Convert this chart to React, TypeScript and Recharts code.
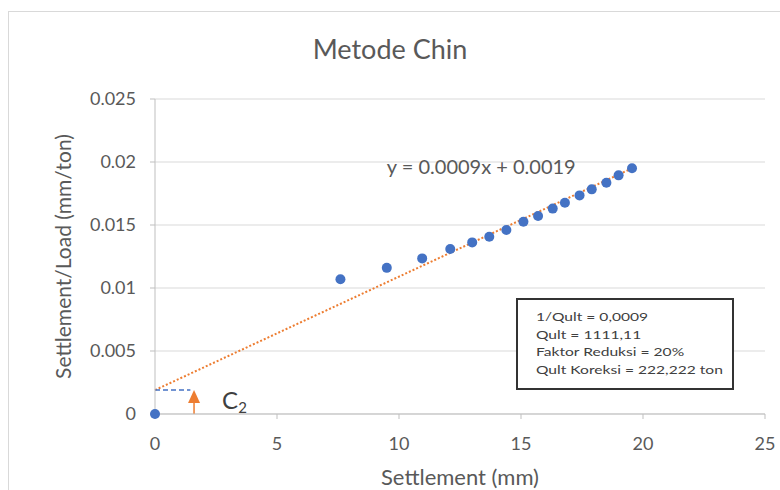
import {
  ScatterChart,
  Scatter,
  XAxis,
  YAxis,
  CartesianGrid,
  ReferenceLine,
  ReferenceDot,
} from "recharts";

// Settlement (mm) vs Settlement/Load (mm/ton)
const settlement = [
  0, 7.6, 9.5, 10.95, 12.1, 13.0, 13.7, 14.4, 15.1, 15.7, 16.3, 16.8, 17.4,
  17.9, 18.5, 19.0, 19.55,
];
const ratio = [
  0, 0.0107, 0.0116, 0.01235, 0.0131, 0.01362, 0.01407, 0.0146, 0.01526,
  0.01571, 0.0163, 0.01677, 0.01735, 0.01783, 0.01836, 0.01894, 0.0195,
];

const xTicks = [0, 5, 10, 15, 20, 25];
const yTicks = [0, 0.005, 0.01, 0.015, 0.02, 0.025];

// trendline endpoints (y = 0.0009x + 0.0019)
const trendStart = { x: 0, y: 0.0019 };
const trendEnd = { x: 19.55, y: 0.0195 };
const interceptEnd = { x: 1.45, y: 0.0019 };
const arrowAt = { x: 1.6, y: 0.00135 };
const c2At = { x: 2.75, y: 0.00115 };
const equationAt = { x: 9.5, y: 0.0197 };

const equationText = "y = 0.0009x + 0.0019";
const boxLines = [
  "1/Qult = 0,0009",
  "Qult = 1111,11",
  "Faktor Reduksi = 20%",
  "Qult Koreksi = 222,222 ton",
];

const data = settlement.map((x, i) => ({ x, y: ratio[i] }));

const font = "Lato, 'Noto Sans', sans-serif";
const textColor = "#595959";
const blue = "#4472c4";
const orange = "#ed7d31";

const YTitle = ({ viewBox }: any) => {
  const cx = viewBox.x + 22;
  const cy = viewBox.y + viewBox.height / 2;
  return (
    <text
      x={cx}
      y={cy}
      transform={`rotate(-90 ${cx} ${cy})`}
      textAnchor="middle"
      dominantBaseline="central"
      fill={textColor}
      fontSize={21}
      fontFamily={font}
    >
      Settlement/Load (mm/ton)
    </text>
  );
};

export default function App() {
  return (
    <div
      style={{
        position: "absolute",
        left: 0,
        top: 0,
        width: 780,
        height: 490,
        background: "#fff",
        fontFamily: font,
        overflow: "hidden",
      }}
    >
      <div
        style={{
          position: "absolute",
          left: 8,
          top: 11,
          width: 790,
          height: 500,
          border: "1px solid #d9d9d9",
        }}
      />
      <div
        style={{
          position: "absolute",
          left: 0,
          width: 780,
          top: 32,
          textAlign: "center",
          fontSize: 27,
          color: textColor,
        }}
      >
        Metode Chin
      </div>
      <ScatterChart
        width={780}
        height={490}
        margin={{ top: 99, right: 15, bottom: 0, left: 40 }}
        style={{ position: "absolute", left: 0, top: 0 }}
      >
        <CartesianGrid vertical={false} stroke="#d9d9d9" />
        <XAxis
          type="number"
          dataKey="x"
          domain={[0, 25]}
          ticks={xTicks}
          tick={{ fontSize: 18, fill: textColor, fontFamily: font }}
          stroke="#bfbfbf"
          tickSize={5}
          tickMargin={18}
          label={{
            value: "Settlement (mm)",
            position: "insideBottom",
            offset: 5,
            fill: textColor,
            fontSize: 22,
            fontFamily: font,
          }}
          height={76}
        />
        <YAxis
          type="number"
          dataKey="y"
          domain={[0, 0.025]}
          ticks={yTicks}
          width={115}
          tick={{ fontSize: 18, fill: textColor, fontFamily: font }}
          stroke="#bfbfbf"
          tickSize={5}
          tickMargin={14}
          label={<YTitle />}
        />
        <ReferenceLine
          segment={[trendStart, trendEnd]}
          stroke={orange}
          strokeWidth={2}
          strokeDasharray="2 2"
        />
        <ReferenceLine
          segment={[trendStart, interceptEnd]}
          stroke={blue}
          strokeWidth={1.5}
          strokeDasharray="5 3"
        />
        <ReferenceLine
          segment={[{ x: arrowAt.x, y: 0 }, arrowAt]}
          stroke={orange}
          strokeWidth={1.5}
        />
        <ReferenceDot
          x={arrowAt.x}
          y={arrowAt.y}
          r={6}
          shape={(p: any) => (
            <polygon
              points={`${p.cx},${p.cy - 7} ${p.cx - 6},${p.cy + 6} ${p.cx + 6},${p.cy + 6}`}
              fill={orange}
            />
          )}
        />
        <Scatter
          data={data}
          fill={blue}
          isAnimationActive={false}
          shape={(p: any) => <circle cx={p.cx} cy={p.cy} r={5} fill={blue} />}
        />
        <ReferenceDot
          x={c2At.x}
          y={c2At.y}
          r={1}
          shape={(p: any) => (
            <text
              x={p.cx}
              y={p.cy}
              fill="#404040"
              fontSize={24}
              fontFamily={font}
              dominantBaseline="central"
            >
              C
              <tspan fontSize={15} dy={7}>
                2
              </tspan>
            </text>
          )}
        />
        <ReferenceDot
          x={equationAt.x}
          y={equationAt.y}
          r={1}
          shape={(p: any) => (
            <text
              x={p.cx}
              y={p.cy}
              fill={textColor}
              fontSize={20}
              fontFamily={font}
              dominantBaseline="central"
            >
              {equationText}
            </text>
          )}
        />
      </ScatterChart>
      <div
        style={{
          position: "absolute",
          left: 516,
          top: 298,
          width: 218,
          height: 92,
          border: "2px solid #333",
          padding: "8px 0 0 18px",
          boxSizing: "border-box",
          fontSize: 12,
          lineHeight: "17.5px",
          color: "#404040",
          background: "#fff",
        }}
      >
        {boxLines.map((l) => (
          <div
            key={l}
            style={{
              transform: "scaleX(1.3)",
              transformOrigin: "left",
              whiteSpace: "nowrap",
            }}
          >
            {l}
          </div>
        ))}
      </div>
    </div>
  );
}
